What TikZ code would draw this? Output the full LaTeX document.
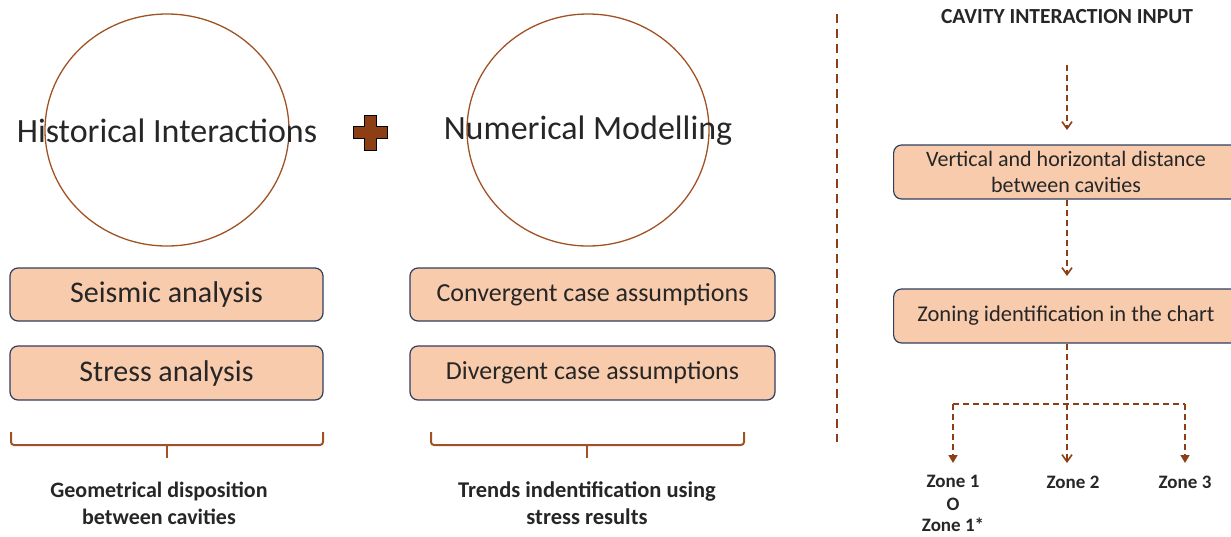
\documentclass[tikz,border=0pt]{standalone}
\usepackage{fontspec}
\setmainfont{Carlito}
\usetikzlibrary{arrows.meta}
\definecolor{brn}{RGB}{160,82,36}
\definecolor{brnd}{RGB}{140,62,20}
\definecolor{peach}{RGB}{248,203,173}
\definecolor{navy}{RGB}{47,62,92}
\definecolor{txt}{RGB}{38,38,38}
\tikzset{
  pbox/.style={draw=navy,line width=1.2pt,fill=peach,rounded corners=8pt,text=txt,align=center,inner sep=0pt},
  dln/.style={draw=brnd,line width=1.6pt,dash pattern=on 6pt off 4pt},
  darr/.style={dln,-{Straight Barb[length=7pt,width=10pt,line width=1.6pt]}},
  farr/.style={dln,-{Triangle[length=8pt,width=9pt]}},
  lbl/.style={text=txt,font=\bfseries\fontsize{19}{23}\selectfont,align=center},
  brace/.style={draw=brn,line width=2pt,rounded corners=3pt},
}
\begin{document}
\begin{tikzpicture}[x=1pt,y=-1pt]
\useasboundingbox (0,0) rectangle (1231,536);
\clip (0,0) rectangle (1231,536);
% circles
\draw[brn,line width=1.3pt] (167,130) ellipse [x radius=122, y radius=116];
\draw[brn,line width=1.3pt] (588,130) ellipse [x radius=121, y radius=116];
\node[text=txt,font=\fontsize{34}{38}\selectfont] (hi) at (167,131) {Historical Interactions};
\node[text=txt,font=\fontsize{34}{38}\selectfont] (nm) at (588,131) {Numerical Modelling};
% plus
\node (plus) at (370,132) {};
\draw[fill=brnd,draw=black,line width=1pt]
  (364,115) -- (376,115) -- (376,126) -- (387,126) -- (387,138) -- (376,138) -- (376,150) -- (364,150) -- (364,138) -- (353,138) -- (353,126) -- (364,126) -- cycle;
% boxes left
\node[pbox,minimum width=313pt,minimum height=53pt,font=\fontsize{30}{34}\selectfont] (sa) at (166.5,294.5) {Seismic analysis};
\node[pbox,minimum width=313pt,minimum height=54pt,font=\fontsize{30}{34}\selectfont] (st) at (166.5,373) {Stress analysis};
\node[pbox,minimum width=365pt,minimum height=53pt,font=\fontsize{26}{30}\selectfont] (cc) at (592.5,294.5) {Convergent case assumptions};
\node[pbox,minimum width=365pt,minimum height=54pt,font=\fontsize{26}{30}\selectfont] (dc) at (592.5,373) {Divergent case assumptions};
% braces
\draw[brace] (11,432) -- (11,445) -- (323,445) -- (323,432);
\draw[draw=brn,line width=2pt] (167,445) -- (167,458);
\draw[brace] (431,432) -- (431,445) -- (744,445) -- (744,432);
\draw[draw=brn,line width=2pt] (587,445) -- (587,458);
\node[lbl,font=\bfseries\fontsize{22}{27}\selectfont] (gd) at (159,503) {Geometrical disposition\\between cavities};
\node[lbl,font=\bfseries\fontsize{22.5}{27}\selectfont] (tr) at (587,503) {Trends indentification using\\stress results};
% separator
\coordinate (s1) at (837,14);
\coordinate (s2) at (837,442);
\draw[dln,dash pattern=on 9pt off 6pt,line width=1.8pt] (s1) -- (s2);
% right column
\node[lbl,font=\bfseries\fontsize{21.5}{25}\selectfont] (ci) at (1067,17) {CAVITY INTERACTION INPUT};
\node[pbox,minimum width=350pt,minimum height=54pt,anchor=west] (vh) at (893,172) {};
\node[text=txt,align=center,font=\fontsize{22}{26}\selectfont] (vht) at (1066,172) {Vertical and horizontal distance\\between cavities};
\node[pbox,minimum width=350pt,minimum height=54pt,anchor=west] (zi) at (893,316) {};
\node[text=txt,font=\fontsize{22.5}{26}\selectfont] (zit) at (1066,316) {Zoning identification in the chart};
\coordinate (a0) at (1067,65);
\draw[darr] (a0) -- (1067,130);
\draw[darr] (1067,200) -- (1067,276);
\coordinate (j) at (1067,404);
\coordinate (jl) at (953,404);
\coordinate (jr) at (1185,404);
\draw[dln] (1067,344) -- (j);
\draw[dln] (jl) -- (jr);
\node[lbl] (z1) at (953,481) {Zone 1};
\node[lbl] (zo) at (953,504) {O};
\node[lbl] (z1s) at (953,525) {Zone 1*};
\node[lbl] (z2) at (1073,482) {Zone 2};
\node[lbl] (z3) at (1185,482) {Zone 3};
\draw[farr] (jl) -- (953,463);
\draw[darr] (j) -- (1067,463);
\draw[farr] (jr) -- (1185,463);
\end{tikzpicture}
\end{document}
